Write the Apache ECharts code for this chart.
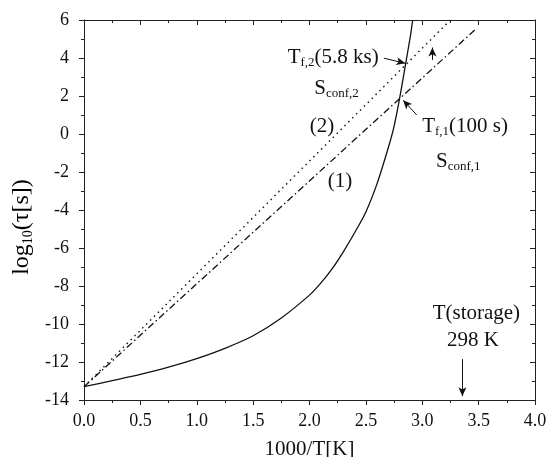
<!DOCTYPE html>
<html>
<head>
<meta charset="utf-8">
<script src="https://cdn.jsdelivr.net/npm/echarts@6/dist/echarts.min.js"></script>
<style>
  html, body { margin: 0; padding: 0; background: #fff; }
  #chart { width: 550px; height: 457px; }
</style>
</head>
<body>
<div id="chart"></div>
<script>
// solid curve
const curveX = [0, 0.25, 0.5, 0.75, 1.0, 1.25, 1.5, 1.75, 2.0, 2.1, 2.2, 2.3, 2.4, 2.5, 2.6, 2.7, 2.75, 2.8, 2.85, 2.9, 2.915]
const curveY = [-13.3, -12.98, -12.65, -12.27, -11.82, -11.28, -10.62, -9.68, -8.48, -7.85, -7.1, -6.2, -5.2, -4.1, -2.6, -0.7, 0.4, 1.9, 3.6, 5.35, 6.0]

// (2) dotted and (1) dash-dot straight lines
const line2X = [0, 3.25]
const line2Y = [-13.3, 6]
const line1X = [0, 3.48]
const line1Y = [-13.3, 5.55]

const xTicks = { min: 0, max: 4, interval: 0.5 }
const yTicks = { min: -14, max: 6, interval: 2 }

// text annotations (data coords)
const annoText = [
  '{m|T}{s|f,2}{m|(5.8 ks)}',
  '{m|S}{s|conf,2}',
  '{m|T}{s|f,1}{m|(100 s)}',
  '{m|S}{s|conf,1}',
  '{m|(2)}',
  '{m|(1)}',
  '{m|T(storage)}',
  '{m|298 K}'
]
const annoX = [2.21, 2.24, 3.38, 3.32, 2.11, 2.27, 3.48, 3.45]
const annoY = [4.03, 2.41, 0.40, -1.44, 0.40, -2.52, -9.43, -10.85]

// arrows: from -> to (data coords)
const arrowFrom = [[2.66, 3.99], [2.95, 1.01], [3.09, 3.9], [3.356, -11.85]]
const arrowTo = [[2.85, 3.72], [2.83, 1.78], [3.09, 4.55], [3.356, -13.8]]

const font = 'Liberation Serif'
const ink = '#111'
const rich = {
  m: { fontFamily: font, fontSize: 21, color: ink },
  s: { fontFamily: font, fontSize: 13, color: ink, padding: [11, 0, 0, 0] }
}

const zip = (xs, ys) => xs.map((x, i) => [x, ys[i]])

const axisBase = (t, outside) => ({
  type: 'value',
  min: t.min,
  max: t.max,
  interval: t.interval,
  splitLine: { show: false },
  axisLine: { show: true, onZero: false, lineStyle: { color: '#222', width: 1 } },
  axisTick: { show: true, inside: !outside, length: 5, lineStyle: { color: '#222' } },
  minorTick: { show: true, splitNumber: 2, length: 3, lineStyle: { color: '#222' } }
})

const chart = echarts.init(document.getElementById('chart'))

chart.setOption({
  animation: false,
  backgroundColor: '#fff',
  grid: { left: 84, right: 15, top: 20, bottom: 57, containLabel: false, outerBoundsMode: 'none' },
  xAxis: [
    {
      ...axisBase(xTicks, true),
      position: 'bottom',
      name: '1000/T[K]',
      nameLocation: 'middle',
      nameGap: 39,
      nameTextStyle: { fontFamily: font, fontSize: 21, color: ink },
      axisLabel: {
        margin: 12,
        fontFamily: font,
        fontSize: 18,
        color: ink,
        formatter: v => v.toFixed(1)
      }
    },
    {
      ...axisBase(xTicks, false),
      position: 'top',
      axisLabel: { show: false }
    }
  ],
  yAxis: [
    {
      ...axisBase(yTicks, true),
      position: 'left',
      axisLabel: { margin: 15, fontFamily: font, fontSize: 18, color: ink }
    },
    {
      ...axisBase(yTicks, false),
      position: 'right',
      axisLabel: { show: false }
    }
  ],
  graphic: [{
    type: 'text',
    x: 22,
    y: 227,
    rotation: Math.PI / 2,
    style: {
      text: '{m|log}{s|10}{m|(τ[s])}',
      rich: {
        m: { fontFamily: font, fontSize: 24, color: ink },
        s: { fontFamily: font, fontSize: 14, color: ink, padding: [12, 0, 0, 0] }
      },
      align: 'center',
      verticalAlign: 'middle'
    }
  }],
  series: [
    {
      type: 'line',
      data: zip(curveX, curveY),
      smooth: 0.3,
      symbol: 'none',
      lineStyle: { color: ink, width: 1.3 },
      z: 3
    },
    {
      type: 'line',
      data: zip(line2X, line2Y),
      symbol: 'none',
      lineStyle: { color: ink, width: 1.4, type: [1.5, 4] }
    },
    {
      type: 'line',
      data: zip(line1X, line1Y),
      symbol: 'none',
      lineStyle: { color: ink, width: 1.3, type: [7, 3, 1.5, 3] }
    },
    {
      type: 'line',
      data: [],
      markLine: {
        silent: true,
        symbol: ['none', 'arrow'],
        symbolSize: [6, 9],
        label: { show: false },
        lineStyle: { color: ink, width: 1, type: 'solid' },
        data: arrowFrom.map((f, i) => [{ coord: f }, { coord: arrowTo[i] }])
      }
    },
    {
      type: 'scatter',
      symbolSize: 0,
      silent: true,
      itemStyle: { opacity: 1 },
      data: annoText.map((t, i) => ({
        value: [annoX[i], annoY[i]],
        label: { formatter: t }
      })),
      label: {
        show: true,
        position: 'inside',
        textBorderWidth: 0,
        opacity: 1,
        rich: rich
      }
    }
  ]
})
</script>
</body>
</html>
